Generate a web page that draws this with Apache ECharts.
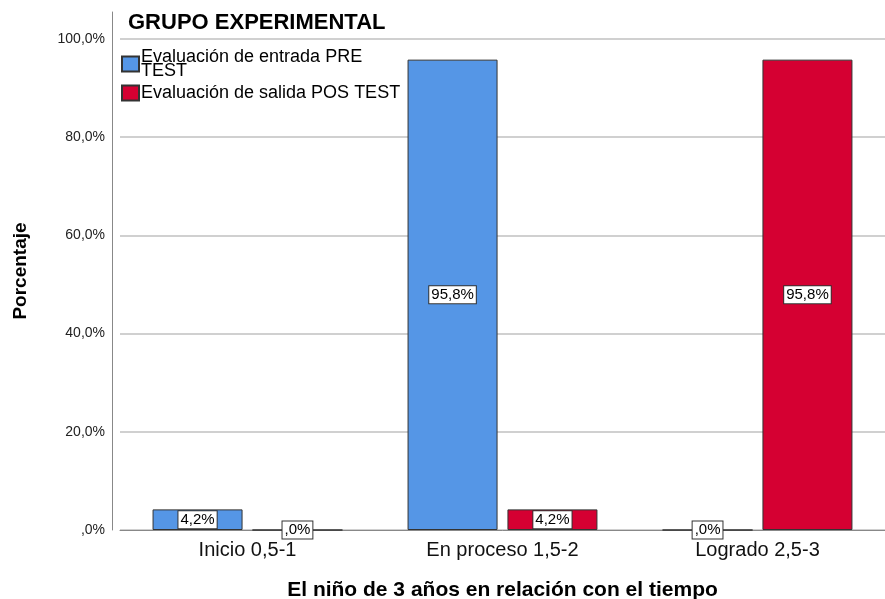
<!DOCTYPE html>
<html>
<head>
<meta charset="utf-8">
<script src="https://cdn.jsdelivr.net/npm/echarts@6/dist/echarts.min.js"></script>
<style>
  html, body { margin: 0; padding: 0; background: #fff; }
  #chart { width: 885px; height: 599px; }
</style>
</head>
<body>
<div id="chart"></div>
<script>
var categories = ['Inicio 0,5-1', 'En proceso 1,5-2', 'Logrado 2,5-3'];
var preTest = [4.2, 95.8, 0];
var posTest = [0, 4.2, 95.8];
var seriesNames = ['Evaluación de entrada PRE TEST', 'Evaluación de salida POS TEST'];

// formato SPSS: coma decimal, sin cero inicial
function pct(v) {
    var s = v.toFixed(1).replace('.', ',');
    if (s.indexOf('0,') === 0) s = s.substring(1);
    return s + '%';
}

echart1();

function echart1() {
    var myChart = echarts.init(document.getElementById('chart'));
    var font = 'Liberation Sans, Arial, sans-serif';
    var barLabel = {
        show: true,
        position: 'inside',
        formatter: function (p) { return pct(p.value); },
        color: '#000',
        fontFamily: font,
        fontSize: 15,
        backgroundColor: '#fff',
        borderColor: '#333',
        borderWidth: 1,
        padding: [1, 2, 1, 2]
    };
    var option = {
        animation: false,
        title: {
            text: 'GRUPO EXPERIMENTAL',
            left: 123,
            top: 7,
            textStyle: { fontFamily: font, fontSize: 22, fontWeight: 'bold', color: '#000' }
        },
        legend: {
            data: seriesNames,
            orient: 'vertical',
            left: 116,
            top: 43,
            itemWidth: 17,
            itemHeight: 15,
            itemGap: 4,
            icon: 'rect',
            formatter: function (name) {
                return name === seriesNames[0] ? 'Evaluación de entrada PRE\nTEST' : name;
            },
            textStyle: { fontFamily: font, fontSize: 18, color: '#000', lineHeight: 14, padding: [0, 0, 0, -3] }
        },
        grid: {
            left: 120,
            right: 0,
            top: 12,
            bottom: 69,
            outerBoundsMode: 'none'
        },
        xAxis: {
            type: 'category',
            data: categories,
            axisTick: { show: false },
            axisLine: { lineStyle: { color: '#888', width: 1 } },
            axisLabel: { fontFamily: font, fontSize: 20, color: '#111', margin: 10 },
            name: 'El niño de 3 años en relación con el tiempo',
            nameLocation: 'middle',
            nameGap: 50,
            nameTextStyle: { fontFamily: font, fontSize: 21, fontWeight: 'bold', color: '#000' }
        },
        yAxis: {
            type: 'value',
            min: 0,
            max: 105.5,
            interval: 20,
            offset: 8,
            axisLine: { show: true, lineStyle: { color: '#888', width: 1 } },
            axisTick: { show: false },
            splitLine: { show: true, showMaxLine: false, lineStyle: { color: '#d0d0d0', width: 2 } },
            axisLabel: {
                fontFamily: font, fontSize: 14, color: '#222', margin: 7,
                showMaxLabel: false,
                formatter: function (v) { return v > 100 ? '' : pct(v); }
            },
            name: 'Porcentaje',
            nameLocation: 'middle',
            nameGap: 82,
            nameTextStyle: { fontFamily: font, fontSize: 19, fontWeight: 'bold', color: '#000' }
        },
        series: [
            {
                name: seriesNames[0],
                type: 'bar',
                data: preTest,
                barWidth: 90,
                barGap: '11%',
                itemStyle: { color: '#5596E6', borderColor: '#333', borderWidth: 1 },
                label: barLabel
            },
            {
                name: seriesNames[1],
                type: 'bar',
                data: posTest,
                barWidth: 90,
                itemStyle: { color: '#D50032', borderColor: '#333', borderWidth: 1 },
                label: barLabel
            }
        ]
    };
    myChart.setOption(option);
}
</script>
</body>
</html>
